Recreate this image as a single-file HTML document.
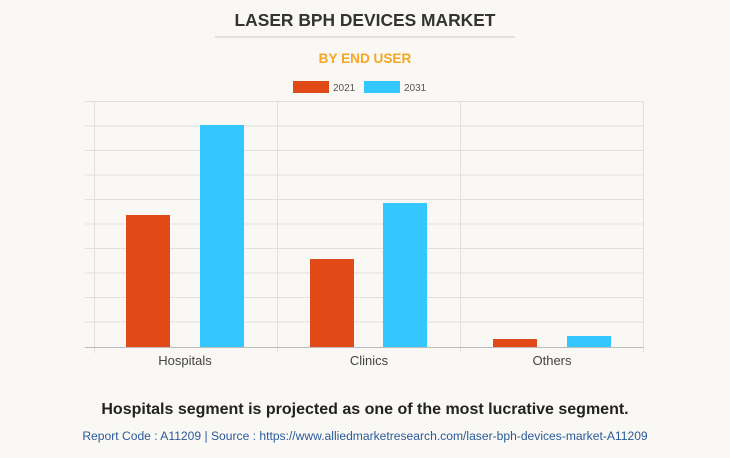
<!DOCTYPE html>
<html><head><style>
body{margin:0;width:730px;height:453px;background:#faf8f4;font-family:"Liberation Sans",sans-serif;overflow:hidden}
</style></head><body>
<svg width="730" height="453" xmlns="http://www.w3.org/2000/svg" font-family="Liberation Sans, sans-serif">
<rect width="730" height="453" fill="#faf8f4"/>
<text x="365" y="26" text-anchor="middle" font-size="17.4" font-weight="bold" fill="#333">LASER BPH DEVICES MARKET</text>
<line x1="215" y1="37" x2="515" y2="37" stroke="#ccc"/>
<text x="365" y="63" text-anchor="middle" font-size="13.6" font-weight="bold" fill="#f5a623">BY END USER</text>
<rect x="293" y="81" width="36" height="12" fill="#e04a16"/>
<text x="333" y="91" font-size="10" fill="#555">2021</text>
<rect x="364" y="81" width="36" height="12" fill="#33c6ff"/>
<text x="404" y="91" font-size="10" fill="#555">2031</text>
<g stroke="#e2e0dc" stroke-width="1">
<line x1="85" y1="101.5" x2="643" y2="101.5"/>
<line x1="85" y1="126" x2="643" y2="126"/>
<line x1="85" y1="150.5" x2="643" y2="150.5"/>
<line x1="85" y1="175" x2="643" y2="175"/>
<line x1="85" y1="199.5" x2="643" y2="199.5"/>
<line x1="85" y1="224" x2="643" y2="224"/>
<line x1="85" y1="248.5" x2="643" y2="248.5"/>
<line x1="85" y1="273" x2="643" y2="273"/>
<line x1="85" y1="297.5" x2="643" y2="297.5"/>
<line x1="85" y1="322" x2="643" y2="322"/>
<line x1="94.5" y1="101" x2="94.5" y2="353"/>
<line x1="277.5" y1="101" x2="277.5" y2="353"/>
<line x1="460.5" y1="101" x2="460.5" y2="353"/>
<line x1="643.5" y1="101" x2="643.5" y2="353"/>
</g>
<rect x="126" y="215" width="44" height="132" fill="#e04a16"/>
<rect x="200" y="125" width="44" height="222" fill="#33c6ff"/>
<rect x="310" y="259" width="44" height="88" fill="#e04a16"/>
<rect x="383" y="203" width="44" height="144" fill="#33c6ff"/>
<rect x="493" y="339" width="44" height="8" fill="#e04a16"/>
<rect x="567" y="336" width="44" height="11" fill="#33c6ff"/>
<line x1="85" y1="347.5" x2="643" y2="347.5" stroke="#bbb"/>
<g font-size="13" fill="#444" text-anchor="middle">
<text x="185" y="365">Hospitals</text>
<text x="369" y="365">Clinics</text>
<text x="552" y="365">Others</text>
</g>
<text x="365" y="414" text-anchor="middle" font-size="16" font-weight="bold" fill="#222">Hospitals segment is projected as one of the most lucrative segment.</text>
<text x="365" y="440" text-anchor="middle" font-size="12.1" fill="#2a5a9a">Report Code : A11209  |  Source : https://www.alliedmarketresearch.com/laser-bph-devices-market-A11209</text>
</svg>
</body></html>
